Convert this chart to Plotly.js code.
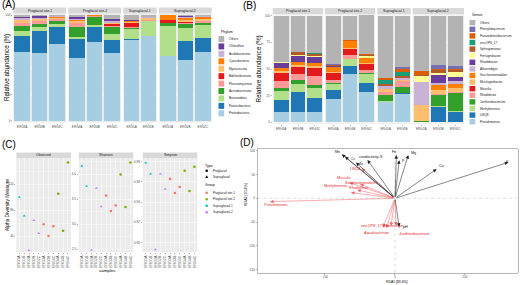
<!DOCTYPE html>
<html><head><meta charset="utf-8">
<script src="https://cdn.plot.ly/plotly-3.0.1.min.js"></script>
<style>html,body{margin:0;padding:0;background:#fff}#chart{width:520px;height:285px}</style>
</head><body><div id="chart"></div>
<script>
// ================= DATA =================
const facetNames = ["Proglacial site-1", "Proglacial site-2", "Supraglacial-1", "Supraglacial-2"];
const facetSamples = [["ERG3A","ERG3B","ERG3C"], ["ERG4A","ERG4B","ERG4C"], ["ERG1A","ERG1B"], ["ERG2A","ERG2B","ERG2C"]];
const barSamples = ["ERG3A","ERG3B","ERG3C","ERG4A","ERG4B","ERG4C","ERG1A","ERG1B","ERG2A","ERG2B","ERG2C"];

// Panel A: phylum relative abundance (%), order = barSamples
const Proteobacteria   = [65, 64, 72.5, 59, 74.5, 64, 76, 80, 61, 58, 65];
const Patescibacteria  = [15, 21, 16.5, 18.5, 14.5, 12.5, 1, 0.5, 0.3, 17.5, 13.5];
const Bacteroidota     = [5, 3.5, 2.5, 2, 2, 6, 10, 13.5, 28.3, 12, 12];
const Actinobacteriota = [4.5, 3, 2.5, 9.5, 7.5, 6, 0.5, 0.5, 3, 4, 2.5];
const Planctomycetota  = [3, 3, 2, 3.5, 0.5, 1.5, 1, 1, 0.3, 1.5, 1];
const Bdellovibrionota = [0.5, 0.3, 0.5, 0.5, 0.2, 1.5, 4.5, 0.3, 2.5, 0.5, 0.5];
const Myxococcota      = [2, 1.5, 1, 1.5, 0.3, 1, 0.5, 1.5, 0.3, 2, 2];
const Cyanobacteria    = [0.5, 0.2, 0.3, 1, 0.3, 0.5, 0.5, 0.2, 4, 2, 2];
const Acidobacteriota  = [1.5, 1, 1, 1, 0.1, 1, 0.5, 0.5, 0.1, 1, 0.5];
const Chloroflexi      = [1.5, 2, 0.7, 2, 0.1, 2, 0.5, 0, 0.1, 0.5, 0.3];
const PhylumOthers     = [1.5, 0.5, 0.5, 1.5, 0, 4, 5, 2, 0.1, 1, 0.7];
const phylumNames = ["Proteobacteria","Patescibacteria","Bacteroidota","Actinobacteriota","Planctomycetota",
  "Bdellovibrionota","Myxococcota","Cyanobacteria","Acidobacteriota","Chloroflexi","Others"];
const phylumValues = [Proteobacteria, Patescibacteria, Bacteroidota, Actinobacteriota, Planctomycetota,
  Bdellovibrionota, Myxococcota, Cyanobacteria, Acidobacteriota, Chloroflexi, PhylumOthers];

// Panel B: genus relative abundance (%), order = barSamples
const Pseudomonas        = [9.5, 9.5, 9.5, 21.5, 45.5, 28, 19, 27, 0.3, 0.5, 0.3];
const LWQ8               = [11, 18.5, 13, 9, 7, 9, 0.3, 0.3, 0.1, 14, 9.7];
const Methylotenera      = [9, 7.5, 10, 5.5, 6.5, 8, 0.5, 0.5, 0.3, 0.5, 0.8];
const Janthinobacterium  = [2.5, 4, 2.5, 0.5, 0.5, 1.5, 6, 5, 0.3, 11, 17];
const Rhodoferax         = [7, 5.5, 8, 3.5, 4, 2.5, 2.5, 5.5, 0.2, 0.5, 0.3];
const Massilia           = [7, 7, 8, 6, 5, 5.5, 0.3, 0.5, 0.1, 0.2, 0.2];
const Mucilaginibacter   = [2, 1.5, 1.5, 1.5, 1, 1, 2.5, 1, 14.5, 4, 4];
const Saccharimonadales  = [3, 3, 3, 4.5, 6.5, 4.5, 0.5, 0.3, 0.2, 4.5, 4];
const Alkanindiges       = [0.3, 0.5, 0.3, 0.2, 0.1, 0.2, 2, 1, 22, 2, 2];
const Rhodobacter        = [4, 5, 5.7, 0.3, 0.1, 0.3, 0.3, 0.3, 0.2, 7, 4];
const Ferruginibacter    = [1.2, 1.5, 0.5, 0.3, 0.3, 1.5, 0.3, 0.5, 5.5, 2.2, 4.5];
const Sphingomonas       = [0.2, 2, 2.5, 1.2, 0.1, 1.5, 1.5, 1.5, 0.5, 2.5, 2];
const envOPS17           = [0.1, 0.2, 0.2, 0.1, 0.1, 0.1, 4, 4, 0.1, 0.3, 0.3];
const Parasediminibacterium = [0.1, 0.3, 0.5, 0.1, 0.1, 0.2, 1.5, 3, 3.5, 1, 1];
const Phenylobacterium   = [0.1, 0.2, 0.2, 0.1, 0.1, 0.1, 0.5, 1.5, 0.1, 3.5, 3];
const GenusOthers        = [43, 33.8, 34.6, 45.7, 23.1, 36.6, 58.3, 48.1, 52.1, 46.3, 46.9];
const genusNames = ["Pseudomonas","LWQ8","Methylotenera","Janthinobacterium","Rhodoferax","Massilia",
  "Mucilaginibacter","Saccharimonadales","Alkanindiges","Rhodobacter","Ferruginibacter","Sphingomonas",
  "env.OPS_17","Parasediminibacterium","Phenylobacterium","Others"];
const genusValues = [Pseudomonas, LWQ8, Methylotenera, Janthinobacterium, Rhodoferax, Massilia,
  Mucilaginibacter, Saccharimonadales, Alkanindiges, Rhodobacter, Ferruginibacter, Sphingomonas,
  envOPS17, Parasediminibacterium, Phenylobacterium, GenusOthers];

// Panel C: alpha diversity
const alphaSamples = ["ERG1A","ERG1B","ERG2A","ERG2B","ERG2C","ERG3A","ERG3B","ERG3C","ERG4A","ERG4B","ERG4C"];
const alphaGroup = ["Supraglacial-1","Supraglacial-1","Supraglacial-2","Supraglacial-2","Supraglacial-2",
  "Proglacial site-1","Proglacial site-1","Proglacial site-1","Proglacial site-2","Proglacial site-2","Proglacial site-2"];
const alphaType = ["Supraglacial","Supraglacial","Supraglacial","Supraglacial","Supraglacial",
  "Proglacial","Proglacial","Proglacial","Proglacial","Proglacial","Proglacial"];
const observed = [100, 71, 18, 64, 44, 58, 40, 55, 105, 48, 153];
const shannon  = [4.16, 3.76, 2.48, 3.72, 3.35, 3.57, 3.26, 3.37, 3.99, 3.34, 4.23];
const simpson  = [0.979, 0.968, 0.893, 0.968, 0.953, 0.963, 0.949, 0.955, 0.971, 0.951, 0.975];
const groupNames = ["Proglacial site-1","Proglacial site-2","Supraglacial-1","Supraglacial-2"];
const typeNames = ["Proglacial","Supraglacial"];

// Panel D: RDA biplot scores
const envNames = ["Mn","Cr","Zn","conductivity..S","Fe","P","Mg","Ca","K","pH"];
const envRDA1  = [-76, -71.4, -55.7, -39.3, 2, 6, 19, 59.5, 162, 6];
const envRDA2  = [92.5, 87.8, 75.2, 80.5, 91, 80, 91, 61.5, 75.6, -60];
const taxRDANames = ["Pseudomonas","LWQ8","Massilia","Methylotenera","Saccharimonadales","Rhodoferax",
  "env.OPS_17","Aquabacterium","Alkanindiges","Janthinobacterium"];
const taxRDA1 = [-178.6, -47.6, -65, -63, -50, -54, -17.6, -11.9, -5.7, 1.4];
const taxRDA2 = [-7, 63, 33, 12, 30, 17.4, -61, -63, -58, -57.4];

// ================= STYLE =================
const W = 520, H = 285;
const PX = v => v / W;
const PY = v => 1 - v / H;
const FONT = '"Liberation Sans", Arial, Helvetica, sans-serif';
const TICK = '#4d4d4d';
const phylumColors = ["#A6CEE3","#1F78B4","#B2DF8A","#33A02C","#FB9A99","#E31A1C","#FDBF6F","#FF7F00","#CAB2D6","#6A3D9A","#B3B3B3"];
const genusColors = ["#A6CEE3","#1F78B4","#B2DF8A","#33A02C","#FB9A99","#E31A1C","#FDBF6F","#FF7F00","#CAB2D6","#6A3D9A","#FFFF99","#B15928","#1B9E77","#D95F02","#7570B3","#B3B3B3"];
const groupColors = {"Proglacial site-1":"#F8766D","Proglacial site-2":"#7CAE00","Supraglacial-1":"#00BFC4","Supraglacial-2":"#C77CFF"};
const typeSymbols = {"Proglacial":"circle","Supraglacial":"triangle-up"};
const geo = {
  A: {fx: [[13.3,66],[68.3,121],[123.3,156.7],[159,211.7]], top: 13.5, bottom: 122.5, strip: 7.5},
  B: {fx: [[272.7,323.3],[325,375],[377.3,410.7],[412.7,464]], top: 14.1, bottom: 123.9, strip: 8.1},
  C: {fx: [[16.4,70.9],[78.8,133.3],[142.8,197.3]], top: 158, bottom: 252, strip: 152.5},
  D: {x: [257.3,517.7], top: 149, bottom: 272.7}
};
const envShift = {"Mn":[-4.4,-2],"Cr":[8,2],"Zn":[5,1],"conductivity..S":[4,-3.3],"Fe":[-2.4,-2.7],"P":[4,0.7],
  "Mg":[5.7,-1.7],"Ca":[5,-3],"K":[-1,0],"pH":[6,0.4]};
const taxShift = {"Pseudomonas":[6.5,3.7],"LWQ8":[-5.7,1],"Massilia":[-6,-4.3],"Methylotenera":[-15.6,-7],
  "Saccharimonadales":[1.7,-0.7],"Rhodoferax":[1.8,-1.7],"env.OPS_17":[-10.7,-1.6],"Aquabacterium":[-10.9,4.4],
  "Alkanindiges":[1.5,-0.4],"Janthinobacterium":[17.3,8.4]};

// ================= BUILD =================
const traces = [];
const layout = {
  width: W, height: H, margin: {l:0, r:0, t:0, b:0},
  paper_bgcolor: '#ffffff', plot_bgcolor: '#EBEBEB',
  barmode: 'stack', bargap: 0.12, showlegend: false,
  font: {family: FONT, size: 3, color: TICK},
  shapes: [], annotations: []
};
const xk = n => n === 1 ? 'xaxis' : 'xaxis' + n;
const yk = n => n === 1 ? 'yaxis' : 'yaxis' + n;
const xi = n => n === 1 ? 'x' : 'x' + n;
const yi = n => n === 1 ? 'y' : 'y' + n;

function text(x, y, t, size, opts) {
  layout.annotations.push(Object.assign({xref:'paper', yref:'paper', x: PX(x), y: PY(y), text: t, showarrow: false,
    font: {family: FONT, size: size, color: '#000'}, xanchor: 'center', yanchor: 'middle'}, opts || {}));
}
function rect(x0, y0, x1, y1, color) {
  layout.shapes.push({type:'rect', xref:'paper', yref:'paper', x0: PX(x0), x1: PX(x1), y0: PY(y1), y1: PY(y0),
    fillcolor: color, line: {width: 0}, layer: 'below'});
}
function strip(x0, x1, y0, y1, label) {
  rect(x0, y0, x1, y1, '#D9D9D9');
  text((x0 + x1) / 2, (y0 + y1) / 2 + 0.2, label, 3.4, {font: {family: FONT, size: 3.4, color: '#1a1a1a'}});
}
const tickCommon = {ticks: 'outside', ticklen: 1.2, tickwidth: 0.4, tickcolor: '#333', tickfont: {family: FONT, size: 3.1, color: TICK},
  zeroline: false, showline: false, fixedrange: true};

function barPanel(g, firstAx, yNum, names, values, colors) {
  layout[yk(yNum)] = Object.assign({}, tickCommon, {domain: [PY(g.bottom), PY(g.top)], anchor: xi(firstAx),
    range: [-1.5, 101.5], tickmode: 'array', tickvals: [0,25,50,75,100], ticktext: ['0','25','50','75','100'],
    showgrid: true, gridcolor: '#fff', gridwidth: 0.5,
    minor: {tickmode: 'array', tickvals: [12.5,37.5,62.5,87.5], showgrid: true, gridcolor: '#fff', gridwidth: 0.25, ticks: ''}});
  facetSamples.forEach((samps, f) => {
    const n = firstAx + f;
    layout[xk(n)] = Object.assign({}, tickCommon, {domain: [PX(g.fx[f][0]), PX(g.fx[f][1])], anchor: yi(yNum),
      type: 'category', categoryorder: 'array', categoryarray: samps, range: [-0.5, samps.length - 0.5],
      showgrid: true, gridcolor: '#fff', gridwidth: 0.5});
    names.forEach((nm, k) => {
      traces.push({type: 'bar', name: nm, x: samps, y: samps.map(s => values[k][barSamples.indexOf(s)]),
        xaxis: xi(n), yaxis: yi(yNum), marker: {color: colors[k], line: {width: 0}}, hoverinfo: 'skip', showlegend: false});
    });
    strip(g.fx[f][0], g.fx[f][1], g.strip, g.top, facetNames[f]);
  });
}
barPanel(geo.A, 1, 1, phylumNames, phylumValues, phylumColors);
barPanel(geo.B, 5, 2, genusNames, genusValues, genusColors);

// Legends for A and B
function boxLegend(title, tx, ty, names, colors, y0, step, kw, kh, textX) {
  text(tx, ty, title, 3.5, {xanchor: 'left'});
  const order = names.map((n, i) => i).reverse();
  order.forEach((k, j) => {
    const yc = y0 + j * step;
    rect(tx, yc - kh / 2, tx + kw, yc + kh / 2, colors[k]);
    text(textX, yc, names[k], 3.1, {xanchor: 'left', font: {family: FONT, size: 3.1, color: '#1a1a1a'}});
  });
}
boxLegend('Phylum', 218.5, 32, phylumNames, phylumColors, 39, 7.43, 5.7, 6, 226.5);
boxLegend('Genus', 469.5, 15.5, genusNames, genusColors, 22.7, 6.6, 5.8, 5.4, 478.3);

// Panel C
const metrics = [
  {name: 'Observed', vals: observed, range: [15.4, 160], ticks: [40,80,120], minor: [20,60,100,140], dec: 0},
  {name: 'Shannon', vals: shannon, range: [2.44, 4.32], ticks: [2.5,3.0,3.5,4.0], minor: [2.75,3.25,3.75,4.25], dec: 1},
  {name: 'Simpson', vals: simpson, range: [0.8906, 0.9837], ticks: [0.90,0.92,0.94,0.96,0.98], minor: [0.91,0.93,0.95,0.97], dec: 2}
];
metrics.forEach((m, p) => {
  const xn = 9 + p, yn = 3 + p;
  const g = geo.C;
  layout[xk(xn)] = Object.assign({}, tickCommon, {domain: [PX(g.fx[p][0]), PX(g.fx[p][1])], anchor: yi(yn),
    type: 'category', categoryorder: 'array', categoryarray: alphaSamples, range: [-0.6, alphaSamples.length - 0.4],
    tickangle: -90, tickfont: {family: FONT, size: 3.6, color: TICK}, showgrid: true, gridcolor: '#fff', gridwidth: 0.5});
  layout[yk(yn)] = Object.assign({}, tickCommon, {domain: [PY(g.bottom), PY(g.top)], anchor: xi(xn),
    range: m.range, tickmode: 'array', tickvals: m.ticks, ticktext: m.ticks.map(v => v.toFixed(m.dec)),
    showgrid: true, gridcolor: '#fff', gridwidth: 0.5,
    minor: {tickmode: 'array', tickvals: m.minor, showgrid: true, gridcolor: '#fff', gridwidth: 0.25, ticks: ''}});
  groupNames.forEach(gr => {
    const idx = alphaGroup.map((v, i) => v === gr ? i : -1).filter(i => i >= 0);
    traces.push({type: 'scatter', mode: 'markers', x: idx.map(i => alphaSamples[i]), y: idx.map(i => m.vals[i]),
      xaxis: xi(xn), yaxis: yi(yn), cliponaxis: false,
      marker: {color: groupColors[gr], size: 2.6, symbol: idx.map(i => typeSymbols[alphaType[i]]), line: {width: 0}},
      hoverinfo: 'skip', showlegend: false});
  });
  strip(g.fx[p][0], g.fx[p][1], g.strip, g.top, m.name);
});
// Legend C
text(203.3, 165.7, 'Type', 3.5, {xanchor: 'left'});
typeNames.forEach((t, i) => {
  const yc = 170.8 + i * 6;
  const cx = 206.7, r = 1.3;
  if (typeSymbols[t] === 'circle') {
    layout.shapes.push({type: 'circle', xref: 'paper', yref: 'paper', x0: PX(cx - r), x1: PX(cx + r), y0: PY(yc + r), y1: PY(yc - r),
      fillcolor: '#000', line: {width: 0}});
  } else {
    layout.shapes.push({type: 'path', xref: 'paper', yref: 'paper',
      path: `M ${PX(cx - 1.5)},${PY(yc + 1.2)} L ${PX(cx + 1.5)},${PY(yc + 1.2)} L ${PX(cx)},${PY(yc - 1.5)} Z`,
      fillcolor: '#000', line: {width: 0}});
  }
  text(211, yc, t, 3.1, {xanchor: 'left', font: {family: FONT, size: 3.1, color: '#1a1a1a'}});
});
text(203.3, 185, 'Group', 3.5, {xanchor: 'left'});
groupNames.forEach((gr, i) => {
  const yc = 192.7 + i * 6.55;
  const cx = 206.7, r = 1.3;
  layout.shapes.push({type: 'circle', xref: 'paper', yref: 'paper', x0: PX(cx - r), x1: PX(cx + r), y0: PY(yc + r), y1: PY(yc - r),
    fillcolor: groupColors[gr], line: {width: 0}});
  text(211, yc, gr, 3.1, {xanchor: 'left', font: {family: FONT, size: 3.1, color: '#1a1a1a'}});
});

// Panel D
const dTicksX = [-100, 0, 100], dTicksY = [-150, -100, -50, 0, 50, 100];
layout[xk(12)] = Object.assign({}, tickCommon, {domain: [PX(geo.D.x[0]), PX(geo.D.x[1])], anchor: 'y6',
  range: [-196.7, 175.3], tickmode: 'array', tickvals: dTicksX, ticktext: dTicksX.map(String),
  showgrid: false, showline: true, mirror: true, linecolor: '#8a8a8a', linewidth: 0.6, tickcolor: '#555'});
layout[yk(6)] = Object.assign({}, tickCommon, {domain: [PY(geo.D.bottom), PY(geo.D.top)], anchor: 'x12',
  range: [-156.3, 103.6], tickmode: 'array', tickvals: dTicksY, ticktext: dTicksY.map(String),
  showgrid: false, showline: true, mirror: true, linecolor: '#8a8a8a', linewidth: 0.6, tickcolor: '#555'});
layout.shapes.push({type: 'rect', xref: 'x12 domain', yref: 'y6 domain', x0: 0, x1: 1, y0: 0, y1: 1, fillcolor: '#fff', line: {width: 0}, layer: 'below'});
layout.shapes.push({type: 'line', xref: 'x12', yref: 'y6 domain', x0: 0, x1: 0, y0: 0, y1: 1, line: {color: '#c8c8c8', width: 0.6, dash: 'dot'}, layer: 'below'});
layout.shapes.push({type: 'line', xref: 'x12 domain', yref: 'y6', x0: 0, x1: 1, y0: 0, y1: 0, line: {color: '#c8c8c8', width: 0.6, dash: 'dot'}, layer: 'below'});
traces.push({type: 'scatter', mode: 'markers', x: envRDA1.concat(taxRDA1), y: envRDA2.concat(taxRDA2), xaxis: 'x12', yaxis: 'y6',
  marker: {opacity: 0, size: 1}, hoverinfo: 'skip', showlegend: false});

function rdaArrows(names, xs, ys, lineColor, textColor, italic, shifts) {
  names.forEach((nm, i) => {
    layout.annotations.push({xref: 'x12', yref: 'y6', axref: 'x12', ayref: 'y6', x: xs[i], y: ys[i], ax: 0, ay: 0,
      text: '', showarrow: true, arrowhead: 2, arrowsize: 1.3, arrowwidth: 0.55, arrowcolor: lineColor, standoff: 0, startstandoff: 0});
  });
  names.forEach((nm, i) => {
    const s = shifts[nm] || [0, 0];
    layout.annotations.push({xref: 'x12', yref: 'y6', x: xs[i], y: ys[i], text: italic ? '<i>' + nm + '</i>' : nm,
      showarrow: false, xshift: s[0], yshift: -s[1], xanchor: 'center', yanchor: 'middle',
      font: {family: FONT, size: 3.7, color: textColor}});
  });
}
rdaArrows(taxRDANames, taxRDA1, taxRDA2, '#EE6A6C', '#E3242B', true, taxShift);
rdaArrows(envNames, envRDA1, envRDA2, '#222222', '#111111', false, envShift);

// Titles and panel letters
text(7, 68, 'Relative abundance (%)', 6.3, {textangle: -90});
text(258.5, 69, 'Relative abundance (%)', 6.3, {textangle: -90});
text(7, 205, 'Alpha Diversity Measure', 4.8, {textangle: -90});
text(107, 270.5, 'samples', 4.4);
text(246, 195, 'RDA2 [10.4%]', 3.6, {textangle: -90});
text(397, 281.5, 'RDA1 [83.6%]', 3.4);
text(0, 4.5, '(A)', 10, {xanchor: 'left'});
text(240.5, 6, '(B)', 10, {xanchor: 'left'});
text(0, 144, '(C)', 10, {xanchor: 'left'});
text(237.5, 142.5, '(D)', 10, {xanchor: 'left'});

Plotly.newPlot('chart', traces, layout, {staticPlot: true, displayModeBar: false});
</script>
</body></html>
